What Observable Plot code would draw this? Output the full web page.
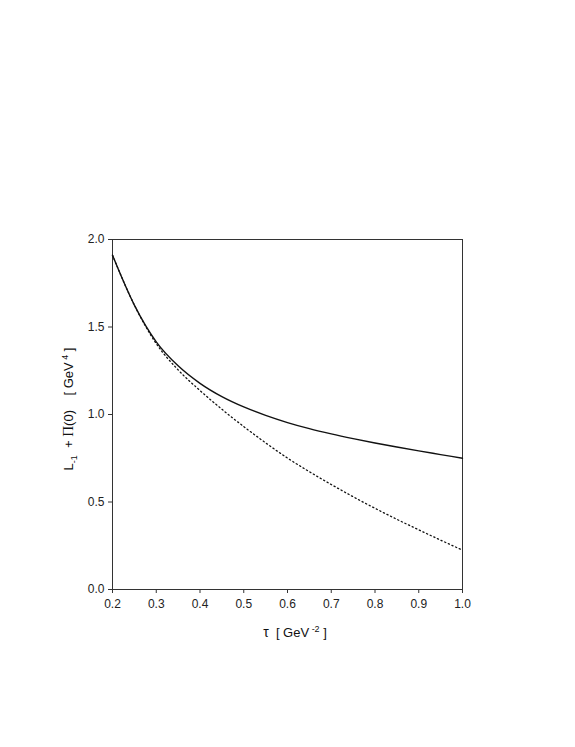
<!DOCTYPE html>
<html>
<head>
<meta charset="utf-8">
<script src="https://cdn.jsdelivr.net/npm/d3@7"></script>
<script src="https://cdn.jsdelivr.net/npm/@observablehq/plot@0.6"></script>
<style>
  html, body { margin: 0; padding: 0; background: #fff; }
  svg { display: block; }
</style>
</head>
<body>
<div id="chart"></div>
<script>
const tauSolid = [0.20, 0.25, 0.30, 0.35, 0.40, 0.45, 0.50, 0.55, 0.60, 0.65, 0.70, 0.75, 0.80, 0.85, 0.90, 0.95, 1.00];
const valSolid = [1.91, 1.625, 1.415, 1.278, 1.178, 1.102, 1.043, 0.995, 0.954, 0.919, 0.889, 0.862, 0.837, 0.814, 0.792, 0.771, 0.750];
const tauDotted = [0.20, 0.25, 0.30, 0.35, 0.40, 0.45, 0.50, 0.55, 0.60, 0.65, 0.70, 0.75, 0.80, 0.85, 0.90, 0.95, 1.00];
const valDotted = [1.91, 1.625, 1.405, 1.255, 1.137, 1.030, 0.931, 0.838, 0.751, 0.673, 0.600, 0.530, 0.464, 0.401, 0.341, 0.282, 0.225];
const xTicks = [0.2, 0.3, 0.4, 0.5, 0.6, 0.7, 0.8, 0.9, 1.0];
const yTicks = [0.0, 0.5, 1.0, 1.5, 2.0];

const solid = tauSolid.map((t, i) => ({t, v: valSolid[i]}));
const dotted = tauDotted.map((t, i) => ({t, v: valDotted[i]}));

const plot = Plot.plot({
  width: 575,
  height: 747,
  marginLeft: 112,
  marginRight: 113,
  marginTop: 239,
  marginBottom: 158,
  style: {fontFamily: "'Liberation Sans', Arial, sans-serif", fontSize: "12px", color: "#222", background: "#fff"},
  x: {domain: [0.2, 1.0], label: null},
  y: {domain: [0, 2], label: null},
  marks: [
    Plot.axisX({ticks: xTicks, tickFormat: d3.format(".1f"), tickSize: 4, tickPadding: 6, label: null, stroke: "#333", fontSize: 12}),
    Plot.axisY({ticks: yTicks, tickFormat: d3.format(".1f"), tickSize: 4, tickPadding: 4, label: null, stroke: "#333", fontSize: 12}),
    Plot.frame({stroke: "#333", strokeWidth: 1}),
    Plot.line(dotted, {x: "t", y: "v", curve: "monotone-x", stroke: "#111", strokeWidth: 1.3, strokeDasharray: "1.2,2.8"}),
    Plot.line(solid, {x: "t", y: "v", curve: "monotone-x", stroke: "#111", strokeWidth: 1.4})
  ]
});

const svg = d3.select(plot);
// X axis label
const xl = svg.append("text")
  .attr("x", 295).attr("y", 637)
  .attr("text-anchor", "middle")
  .attr("font-family", "'Liberation Sans', Arial, sans-serif")
  .attr("font-size", 13)
  .attr("fill", "#111")
  .style("white-space", "pre");
xl.append("tspan").attr("font-size", 14).text("τ");
xl.append("tspan").text("  [ GeV");
xl.append("tspan").attr("font-size", 9).attr("dy", -5).text(" -2");
xl.append("tspan").attr("dy", 5).text(" ]");

// Y axis label
const yl = svg.append("text")
  .attr("transform", "translate(73,409) rotate(-90)")
  .attr("text-anchor", "middle")
  .attr("font-family", "'Liberation Sans', Arial, sans-serif")
  .attr("font-size", 13)
  .attr("fill", "#111")
  .style("white-space", "pre");
yl.append("tspan").text("L");
yl.append("tspan").attr("font-size", 9).attr("dy", 4).text("-1");
yl.append("tspan").attr("dy", -4).text("  + ");
yl.append("tspan").attr("font-family", "'Liberation Serif', serif").attr("font-size", 15).text("Π");
yl.append("tspan").text("(0)    [ GeV");
yl.append("tspan").attr("font-size", 9).attr("dy", -5).text(" 4");
yl.append("tspan").attr("dy", 5).text(" ]");

document.getElementById("chart").appendChild(plot);
</script>
</body>
</html>
